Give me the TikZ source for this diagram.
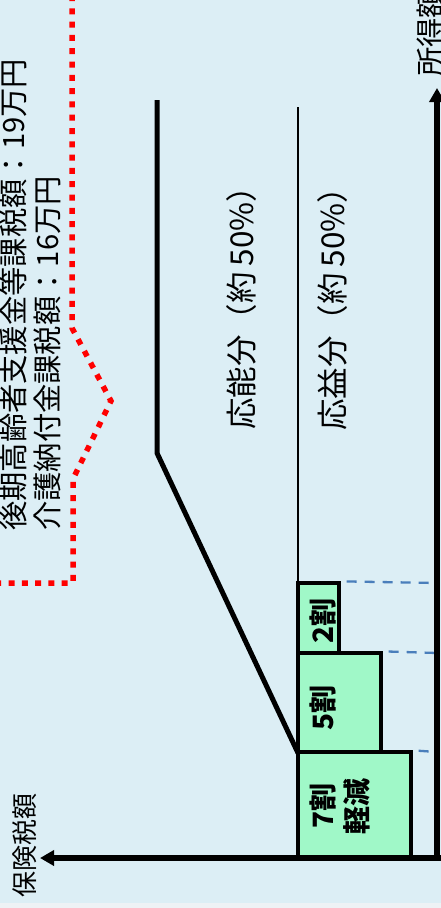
\documentclass[tikz,border=0pt]{standalone}
\usepackage{fontspec}
\setmainfont{Noto Sans CJK JP}
\usetikzlibrary{arrows.meta}
\definecolor{bgblue}{HTML}{DCEEF5}
\definecolor{strip}{HTML}{EEF2F5}
\definecolor{boxgreen}{HTML}{A0F8C8}
\definecolor{dashblue}{HTML}{4A7EBB}
\tikzset{
  axis/.style={line width=5.5pt,-{Triangle[length=14pt,width=15pt]}},
  bound/.style={line width=5pt,line join=round},
  thinline/.style={line width=2.2pt},
  stepbox/.style={draw=black,fill=boxgreen,line width=3.3pt,inner sep=0pt},
  dashln/.style={draw=dashblue,line width=2.3pt,dash pattern=on 10pt off 8pt},
  reddot/.style={draw=red,line width=5.5pt,dash pattern=on 6pt off 7.3pt},
  vlabel/.style={rotate=90,anchor=west,inner sep=0pt,font=\fontsize{29.3}{36}\selectfont},
  partlabel/.style={vlabel,font=\fontsize{31.5}{36}\selectfont},
  boxlabel/.style={rotate=90,inner sep=0pt,align=center,font=\fontsize{28}{34}\selectfont\bfseries},
}
\begin{document}
\begin{tikzpicture}[x=1pt,y=-1pt]
\useasboundingbox (0,0) rectangle (441,908);
\clip (0,0) rectangle (441,908);
\fill[bgblue] (0,0) rectangle (441,903);
\fill[strip] (0,903) rectangle (441,908);
% coordinates
\coordinate (O) at (437,858);
\coordinate (yend) at (437,88);
\coordinate (xend) at (40,858);
\coordinate (t1) at (157,100);
\coordinate (t2) at (157,453);
\coordinate (t3) at (298,753);
\coordinate (s1) at (298,107);
\coordinate (s2) at (298,583);
% red dotted boundary
\coordinate (r0) at (72,-5);
\coordinate (r1) at (72,328);
\coordinate (r2) at (111,401);
\coordinate (r3) at (73,479);
\coordinate (r4) at (73,583);
\coordinate (r5) at (-5,583);
\draw[reddot] (r0) -- (r1) -- (r2) -- (r3) -- (r4) -- (r5);
% boxes
\node[stepbox,minimum width=113pt,minimum height=106pt] (b7) at (354.5,805) {};
\node[stepbox,minimum width=83pt,minimum height=99pt] (b5) at (339.5,702.5) {};
\node[stepbox,minimum width=41pt,minimum height=70pt] (b2) at (318.5,618) {};
% dashed level lines
\coordinate (d2) at (437,583);
\coordinate (d5) at (437,653);
\coordinate (d7) at (437,752);
\draw[dashln,dash phase=-6pt] (b2.north east) -- (d2);
\draw[dashln,dash phase=-6pt] (b5.north east) -- (d5);
\draw[dashln,dash phase=-6pt] (b7.north east) -- (d7);
% lines
\draw[thinline] (s1) -- (s2);
\draw[bound] (t1) -- (t2) -- (t3);
% axes
\draw[axis] ([xshift=5pt]O) -- (xend);
\draw[axis] ([yshift=2.75pt]O) -- (yend);
% labels
\node[vlabel] (lab1) at (13,531) {後期高齢者支援金等課税額：19万円};
\node[vlabel] (lab2) at (47,531) {介護納付金課税額：16万円};
\node[partlabel] (ono) at (242,430) {応能分（約\hspace{6pt}50\%）};
\node[partlabel] (oeki) at (333,431) {応益分（約\hspace{6pt}50\%）};
\node[vlabel] (ylab) at (430,77) {所得額};
\node[vlabel,font=\fontsize{26}{30}\selectfont] (xlab) at (25,898) {保険税額};
\node[boxlabel] (l2) at (323,621) {2割};
\node[boxlabel] (l5) at (323,708) {5割};
\node[boxlabel] (l7) at (340,806) {7割\\軽減};
\end{tikzpicture}
\end{document}
